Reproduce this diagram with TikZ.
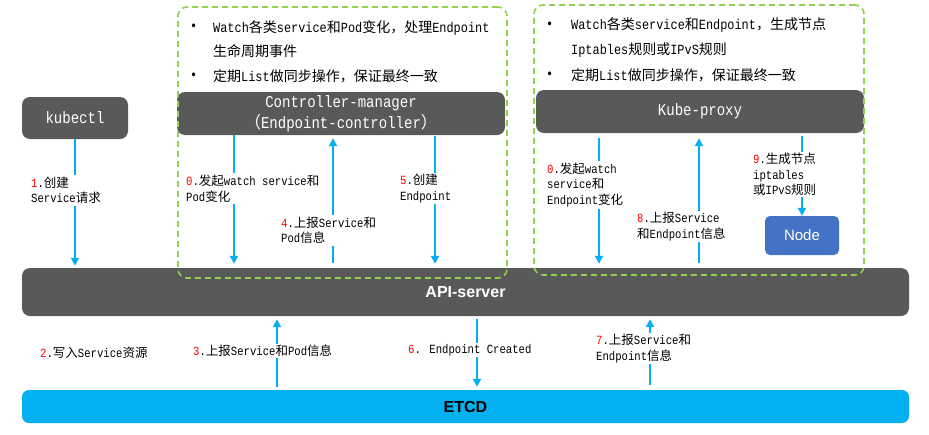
\documentclass[tikz,border=0pt]{standalone}
\usepackage{fontspec}
\usetikzlibrary{arrows.meta}
\setmainfont{Liberation Mono}[FakeStretch=0.85]
\newfontfamily\cjk{Noto Sans CJK SC}
\newfontfamily\boxsans{Liberation Sans}
\definecolor{darkgray5}{HTML}{595959}
\definecolor{etcdblue}{HTML}{00B0F0}
\definecolor{arrowblue}{HTML}{00B0F0}
\definecolor{nodeblue}{HTML}{4472C4}
\definecolor{dashgreen}{HTML}{92D050}
% automatic switch to the CJK font for CJK characters
\XeTeXinterchartokenstate=1
\chardef\CJKcls=10
\makeatletter
\count@="3000 \loop\XeTeXcharclass\count@=\CJKcls\relax\ifnum\count@<"303F \advance\count@\@ne\repeat
\count@="4E00 \loop\XeTeXcharclass\count@=\CJKcls\relax\ifnum\count@<"9FFF \advance\count@\@ne\repeat
\count@="FF00 \loop\XeTeXcharclass\count@=\CJKcls\relax\ifnum\count@<"FFEF \advance\count@\@ne\repeat
\makeatother
\XeTeXinterchartoks 0 \CJKcls = {\begingroup\cjk}
\XeTeXinterchartoks 4095 \CJKcls = {\begingroup\cjk}
\XeTeXinterchartoks \CJKcls 0 = {\endgroup}
\XeTeXinterchartoks \CJKcls 4095 = {\endgroup}
\newcommand\rn[1]{\textcolor{red}{#1}}
\tikzset{
  darkbox/.style={fill=darkgray5, rounded corners=8pt, text=white, inner sep=0pt,
    font=\fontsize{16.5}{21}\selectfont, align=center},
  groupbox/.style={draw=dashgreen, line width=1.6pt, dash pattern=on 6pt off 4pt,
    rounded corners=9pt, inner sep=0pt},
  arr/.style={draw=arrowblue, line width=1.9pt, -{Triangle[length=8pt,width=8pt]}},
  lab/.style={fill=white, inner sep=1.5pt, align=left, anchor=west,
    font=\fontsize{12.5}{15.5}\selectfont},
  bul/.style={inner sep=0pt, align=left, anchor=west, font=\fontsize{14}{24.5}\selectfont},
}
\begin{document}
\begin{tikzpicture}[x=1pt,y=-1pt]
\useasboundingbox (0,0) rectangle (929,434);
\fill[white] (0,0) rectangle (929,434);
% main boxes
\node[darkbox, minimum width=106, minimum height=42] (kubectl) at (75,118) {kubectl};
\node[darkbox, minimum width=328, minimum height=43] (cm) at (341,113.5)
  {Controller-manager\\（Endpoint-controller）};
\node[darkbox, minimum width=328, minimum height=43] (kp) at (700,111.5) {Kube-proxy};
\node[fill=darkgray5, rounded corners=8pt, minimum width=887, minimum height=48,
  text=white, font=\boxsans\bfseries\fontsize{16}{18}\selectfont] (api) at (465.5,292) {API-server};
\node[fill=etcdblue, rounded corners=7pt, minimum width=887, minimum height=33,
  text=black, font=\boxsans\bfseries\fontsize{16}{18}\selectfont] (etcd) at (465.5,406.5) {ETCD};
\node[fill=nodeblue, rounded corners=5pt, minimum width=74, minimum height=39,
  text=white, font=\boxsans\fontsize{15}{17}\selectfont] (node) at (802,235.5) {Node};
% dashed groups
\node[groupbox, minimum width=329, minimum height=271] (grpL) at (342.5,142.5) {};
\node[groupbox, minimum width=330, minimum height=270] (grpR) at (699,140) {};
% bullet texts
\node[bul] (bL1) at (190,27) {•};
\node[bul] (tL1) at (213,39) {Watch各类service和Pod变化，处理Endpoint\\生命周期事件};
\node[bul] (bL2) at (190,76) {•};
\node[bul] (tL2) at (213,76) {定期List做同步操作，保证最终一致};
\node[bul] (bR1) at (546,25) {•};
\node[bul] (tR1) at (571,37.5) {Watch各类service和Endpoint，生成节点\\Iptables规则或IPvS规则};
\node[bul] (bR2) at (546,75) {•};
\node[bul] (tR2) at (571,75) {定期List做同步操作，保证最终一致};
% arrow columns
\coordinate (c0) at (234,0);
\coordinate (c4) at (333,0);
\coordinate (c5) at (435,0);
\coordinate (c0r) at (599,0);
\coordinate (c8) at (699,0);
\coordinate (c9) at (802,0);
\coordinate (c3) at (277,0);
\coordinate (c6) at (477,0);
\coordinate (c7) at (650,0);
% arrows
\draw[arr, shorten >=2pt] (kubectl.south) -- (kubectl.south |- api.north);
\draw[arr, shorten >=4pt] (cm.south -| c0) -- (api.north -| c0);
\draw[arr, shorten >=3pt, shorten <=5pt] (api.north -| c4) -- (cm.south -| c4);
\draw[arr, shorten >=4pt, shorten <=1pt] (cm.south -| c5) -- (api.north -| c5);
\draw[arr, shorten >=4pt, shorten <=5pt] (kp.south -| c0r) -- (api.north -| c0r);
\draw[arr, shorten >=5pt, shorten <=5pt] (api.north -| c8) -- (kp.south -| c8);
\draw[arr, shorten <=3pt] (kp.south -| c9) -- (node.north);
\draw[arr, shorten >=3pt, shorten <=3pt] (etcd.north -| c3) -- (api.south -| c3);
\draw[arr, shorten >=3pt, shorten <=3pt] (api.south -| c6) -- (etcd.north -| c6);
\draw[arr, shorten >=3pt, shorten <=5pt] (etcd.north -| c7) -- (api.south -| c7);
% labels
\node[lab] (l1) at (29.5,190.5) {\rn{1}.创建\\Service请求};
\node[lab] (l0) at (184.5,188.5) {\rn{0}.发起watch service和\\Pod变化};
\node[lab] (l4) at (279.5,230.5) {\rn{4}.上报Service和\\Pod信息};
\node[lab] (l5) at (398.5,188.5) {\rn{5}.创建\\Endpoint};
\node[lab] (l0r) at (545.5,185) {\rn{0}.发起watch\\service和\\Endpoint变化};
\node[lab] (l8) at (635.5,226.5) {\rn{8}.上报Service\\和Endpoint信息};
\node[lab] (l9) at (751.5,174.5) {\rn{9}.生成节点\\iptables\\或IPvS规则};
\node[lab] (l2) at (38.5,353) {\rn{2}.写入Service资源};
\node[lab] (l3) at (191.5,351) {\rn{3}.上报Service和Pod信息};
\node[lab] (l6) at (406.5,350) {\rn{6}. Endpoint Created};
\node[lab] (l7) at (594.5,348.5) {\rn{7}.上报Service和\\Endpoint信息};
\end{tikzpicture}
\end{document}
